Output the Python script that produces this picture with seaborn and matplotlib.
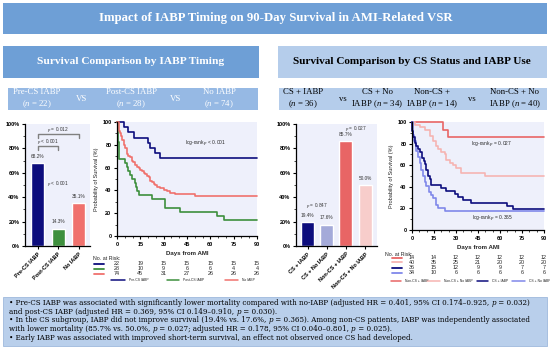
import matplotlib.pyplot as plt
import matplotlib.transforms as mtransforms
import pandas as pd
import seaborn as sns
from matplotlib.lines import Line2D
from matplotlib.patches import Rectangle
from matplotlib.ticker import MultipleLocator, PercentFormatter

# ==============================================================================
# DATA
# ==============================================================================

timing_groups = ["Pre-CS IABP", "Post-CS IABP", "No IABP"]
timing_survival = [68.2, 14.3, 35.1]
timing_n = [22, 28, 74]

cs_groups = ["CS + IABP", "CS + No IABP", "Non-CS + IABP", "Non-CS + No IABP"]
cs_survival = [19.4, 17.6, 85.7, 50.0]
cs_n = [36, 34, 14, 40]

risk_days = [0, 15, 30, 45, 60, 75, 90]
risk_pre = [22, 19, 15, 15, 15, 15, 15]
risk_post = [28, 10, 9, 6, 6, 4, 4]
risk_no = [74, 45, 31, 27, 26, 26, 26]
risk_noncs_iabp = [14, 14, 12, 12, 12, 12, 12]
risk_noncs_no = [40, 35, 25, 21, 20, 20, 20]
risk_cs_iabp = [36, 15, 12, 9, 9, 7, 7]
risk_cs_no = [34, 10, 6, 6, 6, 6, 6]

# Kaplan-Meier steps (day, survival %)
pre_t = [0, 4.7, 6.8, 10.7, 19.9, 21.4, 24.6, 27.4]
pre_s = [100, 95.5, 90.9, 86.4, 81.8, 77.3, 72.7, 68.2]
post_t = [0, 0.4, 1.5, 5.3, 6.5, 7.2, 8.5, 9.5, 11.5, 12.5, 13.0, 14.0, 22.4, 31.0, 40.6, 64.6, 68.8]
post_s = [100, 82.1, 67.9, 64.3, 60.7, 57.1, 53.6, 50.0, 46.4, 42.9, 39.3, 35.7, 32.1, 25.0, 21.4, 17.9, 14.3]
no_t = [0, 1.1, 2.0, 2.6, 3.2, 4.3, 5.0, 6.4, 7.2, 8.1, 9.6, 10.5, 11.8, 13.0, 13.9, 15.0,
        16.0, 17.1, 18.2, 19.2, 20.3, 21.4, 22.5, 23.5, 24.6, 26.0, 27.4, 29.9, 32.1, 34.2, 37.4, 50.2]
no_s = [100, 91.9, 90.5, 87.8, 83.8, 79.7, 77.0, 71.6, 70.3, 68.9, 66.2, 64.9, 62.2, 60.8, 59.5, 58.1,
        56.8, 55.4, 54.1, 52.7, 51.4, 48.6, 47.3, 45.9, 44.6, 43.2, 41.9, 40.5, 39.2, 37.8, 36.5, 35.1]

noncs_iabp_t = [0, 21.2, 24.6]
noncs_iabp_s = [100, 92.9, 85.7]
noncs_no_t = [0, 1.8, 5.2, 8.7, 12.0, 14.4, 16.2, 17.8, 20.0, 22.3, 23.5, 25.7, 28.0, 30.3, 33.7, 49.7]
noncs_no_s = [100, 97.5, 95.0, 92.5, 87.5, 82.5, 77.5, 75.0, 72.5, 70.0, 65.0, 62.5, 60.0, 57.5, 52.5, 50.0]
cs_iabp_t = [0, 0.3, 0.8, 1.8, 2.9, 4.1, 5.7, 7.0, 8.0, 8.7, 9.8, 10.9, 12.1, 13.2, 20.0, 23.5,
             29.2, 31.4, 35.0, 40.5, 64.5, 69.0]
cs_iabp_s = [100, 91.7, 86.1, 80.6, 77.8, 75.0, 72.2, 66.7, 63.9, 61.1, 55.6, 50.0, 47.2, 41.7, 38.9, 36.1,
             33.3, 30.6, 27.8, 25.0, 22.2, 19.4]
cs_no_t = [0, 0.5, 1.5, 2.5, 4.1, 5.2, 6.4, 7.5, 8.7, 9.8, 11.6, 13.2, 14.4, 16.6, 17.8, 22.3]
cs_no_s = [100, 88.2, 82.4, 73.5, 67.6, 61.8, 55.9, 50.0, 44.1, 41.2, 35.3, 32.4, 29.4, 23.5, 20.6, 17.6]

# summary lines; "*p*" marks an italic p
notes = [
    "\u2022 Pre-CS IABP was associated with significantly lower mortality compared with no-IABP "
    "(adjusted HR = 0.401, 95% CI 0.174\u20130.925, *p* = 0.032)",
    "and post-CS IABP (adjusted HR = 0.369, 95% CI 0.149\u20130.910, *p* = 0.030).",
    "\u2022 In the CS subgroup, IABP did not improve survival (19.4% vs. 17.6%, *p* = 0.365). "
    "Among non-CS patients, IABP was independently associated",
    "with lower mortality (85.7% vs. 50.0%, *p* = 0.027; adjusted HR = 0.178, 95% CI 0.040\u20130.801, *p* = 0.025).",
    "\u2022 Early IABP was associated with improved short-term survival, an effect not observed once CS had developed.",
]

# ==============================================================================
# STYLE
# ==============================================================================

NAVY = "#0d0d7d"
GREEN = "#3d8f3d"
SALMON = "#f0716d"
CS_NO_BAR = "#a4aad9"
CS_NO_LINE = "#8088ea"
NONCS_IABP = "#e86565"
NONCS_NO_BAR = "#f7cdcb"
NONCS_NO_LINE = "#f6b4b2"
PANEL_BG = "#eef0fb"

TITLE_BLUE = "#6e9fd6"
GROUP_BLUE = "#96b9e4"
LIGHT_BLUE = "#b5cdeb"
NOTE_BLUE = "#b9cfeb"

SERIF = "Liberation Serif"
NOTE_SERIF = "DejaVu Serif"
SANS = "Liberation Sans"

sns.set_style("ticks")
plt.rcParams["font.family"] = [SANS, "DejaVu Sans"]
plt.rcParams["mathtext.fontset"] = "custom"
plt.rcParams["mathtext.rm"] = SERIF
plt.rcParams["mathtext.it"] = SERIF + ":italic"

W, H = 550, 353
fig = plt.figure(figsize=(W / 100, H / 100), dpi=100)


def box(x0, y0, x1, y1):
    return [x0 / W, 1 - y1 / H, (x1 - x0) / W, (y1 - y0) / H]


def fy(y):
    return 1 - y / H


def rect(x0, y0, x1, y1, color, edge="none"):
    fig.add_artist(Rectangle((x0 / W, fy(y1)), (x1 - x0) / W, (y1 - y0) / H,
                             transform=fig.transFigure, facecolor=color,
                             edgecolor=edge, linewidth=0.6, zorder=0))


def ftext(x, y, s, **kw):
    return fig.text(x / W, fy(y), s, ha=kw.pop("ha", "center"), va=kw.pop("va", "center"), **kw)


# ==============================================================================
# HEADERS
# ==============================================================================

rect(3, 3, 547, 34, TITLE_BLUE)
ftext(276, 18.5, "Impact of IABP Timing on 90-Day Survival in AMI-Related VSR",
      color="white", weight="bold", size=9.2, family=SERIF)

rect(3, 46, 259, 78, TITLE_BLUE)
ftext(131, 62, "Survival Comparison by IABP Timing", color="white", weight="bold",
      size=8.2, family=SERIF)
rect(278, 46, 547, 78, LIGHT_BLUE)
ftext(412, 62, "Survival Comparison by CS Status and IABP Use", color="black",
      weight="bold", size=8.1, family=SERIF)

rect(8, 88, 258, 110, GROUP_BLUE)
for xc, name, n in zip([37, 131, 219], timing_groups, timing_n):
    ftext(xc, 99, f"{name}\n($n$ = {n})", color="white", size=6.3, family=SERIF, linespacing=1.25)
for xc in [82, 176]:
    ftext(xc, 99, "VS", color="white", size=6.3, family=SERIF)

rect(279, 88, 547, 110, LIGHT_BLUE)
cs_header = ["CS + IABP\n($n$ = {})", "CS + No\nIABP ($n$ = {})",
             "Non-CS +\nIABP ($n$ = {})", "Non-CS + No\nIABP ($n$ = {})"]
for xc, fmt, n in zip([303, 377, 432, 515], cs_header, cs_n):
    ftext(xc, 99, fmt.format(n), color="black", size=6.3, family=SERIF, linespacing=1.25)
for xc in [343, 472]:
    ftext(xc, 99, "vs", color="black", size=6.3, family=SERIF)


# ==============================================================================
# BAR CHARTS
# ==============================================================================

def style_axes(ax):
    sns.despine(ax=ax)
    ax.set_facecolor(PANEL_BG)
    for side in ["left", "bottom"]:
        ax.spines[side].set_linewidth(0.9)
        ax.spines[side].set_color("black")
    ax.tick_params(which="major", length=2.5, width=0.8, pad=1.5, labelsize=4, colors="black")
    ax.tick_params(which="minor", length=1.5, width=0.6)


def bar_panel(rect_px, groups, values, colors, xlim, width):
    ax = fig.add_axes(box(*rect_px))
    sns.barplot(x=groups, y=values, hue=groups, palette=colors, width=width,
                saturation=1, legend=False, ax=ax)
    style_axes(ax)
    ax.set_xlim(*xlim)
    ax.set_ylim(0, 100)
    ax.yaxis.set_major_locator(MultipleLocator(20))
    ax.yaxis.set_minor_locator(MultipleLocator(10))
    ax.yaxis.set_major_formatter(PercentFormatter(decimals=0))
    ax.set_xlabel("")
    ax.set_ylabel("")
    for lab in ax.get_yticklabels():
        lab.set_fontweight("bold")
    ax.set_xticks(range(len(groups)))
    ax.set_xticklabels(groups, rotation=45, ha="right", rotation_mode="anchor",
                       fontweight="bold", fontsize=4)
    for i, v in enumerate(values):
        ax.text(i, v + 5.5, f"{v:.1f}%", ha="center", va="center", fontsize=3.4, color="#333333")
    return ax


ax_bar1 = bar_panel((25, 124, 90, 246), timing_groups, timing_survival,
                    [NAVY, GREEN, SALMON], (-0.63, 2.55), 0.63)
bracket = dict(color="#808080", lw=1.0, clip_on=False)
ax_bar1.plot([0, 0, 1, 1], [78.5, 82, 82, 78.5], **bracket)
ax_bar1.plot([0, 0, 2, 2], [88.5, 92, 92, 88.5], **bracket)
p_kw = dict(ha="center", va="center", fontsize=3.4, color="#333333")
ax_bar1.text(0.5, 85.6, "$p$ < 0.001", **p_kw)
ax_bar1.text(1.0, 95.6, "$p$ = 0.012", **p_kw)
ax_bar1.text(1.0, 51.6, "$p$ < 0.001", **p_kw)

ax_bar2 = bar_panel((296, 124, 377, 246), cs_groups, cs_survival,
                    [NAVY, CS_NO_BAR, NONCS_IABP, NONCS_NO_BAR], (-0.6, 3.62), 0.68)
ax_bar2.text(0.5, 33, "$p$ = 0.847", **p_kw)
ax_bar2.text(2.5, 96, "$p$ = 0.027", **p_kw)


# ==============================================================================
# KAPLAN-MEIER PANELS
# ==============================================================================

def km_frame(curves):
    frames = []
    for name, t, s in curves:
        frames.append(pd.DataFrame({"day": t + [90], "surv": s + [s[-1]], "group": name}))
    return pd.concat(frames, ignore_index=True)


def km_panel(rect_px, curves, palette):
    ax = fig.add_axes(box(*rect_px))
    df = km_frame(curves)
    sns.lineplot(data=df, x="day", y="surv", hue="group", palette=palette,
                 drawstyle="steps-post", estimator=None, sort=False, legend=False,
                 linewidth=1.2, clip_on=False, ax=ax)
    style_axes(ax)
    ax.set_xlim(0, 90)
    ax.set_ylim(0, 100)
    ax.set_xticks(risk_days)
    ax.xaxis.set_minor_locator(MultipleLocator(5))
    ax.yaxis.set_major_locator(MultipleLocator(20))
    ax.yaxis.set_minor_locator(MultipleLocator(10))
    for lab in ax.get_xticklabels() + ax.get_yticklabels():
        lab.set_fontweight("bold")
    ax.set_xlabel("Days from AMI", fontsize=4.4, fontweight="bold", labelpad=3)
    ax.set_ylabel("Probability of Survival (%)", fontsize=4, labelpad=2)
    return ax


def risk_table(ax, title_xy, rows, row_x, row_ys, legend_y, legend_items):
    tr = mtransforms.blended_transform_factory(ax.transData, fig.transFigure)
    ftext(title_xy[0], title_xy[1], "No. at Risk:", ha="left", size=3.8)
    for (color, counts), y in zip(rows, row_ys):
        fig.add_artist(Line2D([row_x[0] / W, row_x[1] / W], [fy(y), fy(y)],
                              transform=fig.transFigure, color=color, lw=1.3))
        for d, c in zip(risk_days, counts):
            fig.text(d, fy(y), str(c), transform=tr, ha="center", va="center", fontsize=3.9)
    for x0, x1, color, label in legend_items:
        fig.add_artist(Line2D([x0 / W, x1 / W], [fy(legend_y), fy(legend_y)],
                              transform=fig.transFigure, color=color, lw=1.1))
        ftext(x1 + 4, legend_y, label, ha="left", size=2.4)


ax_km1 = km_panel((117, 122, 257, 236),
                  [("Pre-CS IABP", pre_t, pre_s),
                   ("Post-CS IABP", post_t, post_s),
                   ("No IABP", no_t, no_s)],
                  {"Pre-CS IABP": NAVY, "Post-CS IABP": GREEN, "No IABP": SALMON})
ax_km1.text(56.6, 82, "log-rank $p$ < 0.001", ha="center", va="center", fontsize=3.5)
risk_table(ax_km1, (93, 259),
           [(NAVY, risk_pre), (GREEN, risk_post), (SALMON, risk_no)],
           (94, 104), [263.7, 268.7, 273.7], 280.3,
           [(111, 125, NAVY, "Pre-CS IABP"), (167, 179, GREEN, "Post-CS IABP"),
            (225, 238, SALMON, "No IABP")])

ax_km2 = km_panel((412, 122, 544, 230),
                  [("Non-CS + IABP", noncs_iabp_t, noncs_iabp_s),
                   ("Non-CS + No IABP", noncs_no_t, noncs_no_s),
                   ("CS + No IABP", cs_no_t, cs_no_s),
                   ("CS + IABP", cs_iabp_t, cs_iabp_s)],
                  {"Non-CS + IABP": NONCS_IABP, "Non-CS + No IABP": NONCS_NO_LINE,
                   "CS + IABP": NAVY, "CS + No IABP": CS_NO_LINE})
ax_km2.text(54.3, 80, "log-rank $p$ = 0.027", ha="center", va="center", fontsize=3.5)
ax_km2.text(55, 11.4, "log-rank $p$ = 0.365", ha="center", va="center", fontsize=3.5)
risk_table(ax_km2, (385, 254),
           [(NONCS_IABP, risk_noncs_iabp), (NONCS_NO_LINE, risk_noncs_no),
            (NAVY, risk_cs_iabp), (CS_NO_LINE, risk_cs_no)],
           (392, 402), [257.7, 262.3, 267.7, 272.7], 281,
           [(391, 401, NONCS_IABP, "Non-CS + IABP"), (427, 440, NONCS_NO_LINE, "Non-CS + No IABP"),
            (477, 488, NAVY, "CS + IABP"), (512, 525, CS_NO_LINE, "CS + No IABP")])


# ==============================================================================
# SUMMARY BOX
# ==============================================================================

rect(3, 297, 547, 346, NOTE_BLUE, edge="#9fb9dd")
renderer = fig.canvas.get_renderer()


def rich_line(x, y, line, size):
    # pieces alternate plain / italic, split on the *...* markers
    for k, piece in enumerate(line.split("*")):
        if not piece:
            continue
        t = ftext(x, y, piece, ha="left", va="baseline", size=size, family=NOTE_SERIF,
                  style="italic" if k % 2 else "normal", color="black")
        x += t.get_window_extent(renderer).width


for line, y in zip(notes, [305, 313.7, 322.4, 331.1, 339.8]):
    rich_line(9, y, line, 5.1)

fig.savefig("out.png", dpi=100)
